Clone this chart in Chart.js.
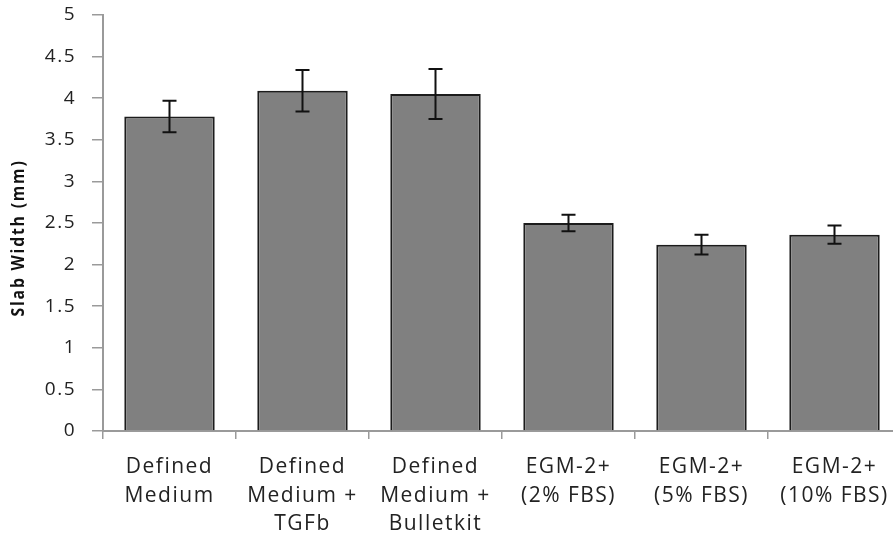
<!DOCTYPE html>
<html>
<head>
<meta charset="utf-8">
<script src="https://cdn.jsdelivr.net/npm/chart.js@4/dist/chart.umd.min.js"></script>
<style>
  html, body { margin: 0; padding: 0; background: #fff; overflow: hidden; }
  #wrap { width: 893px; height: 544px; overflow: hidden; }
  canvas { display: block; }
</style>
</head>
<body>
<div id="wrap"><canvas id="c" width="901" height="544"></canvas></div>
<script>
// Slab width per culture medium (mean ± error)
const categories = [
  ['Defined', 'Medium'],
  ['Defined', 'Medium +', 'TGFb'],
  ['Defined', 'Medium +', 'Bulletkit'],
  ['EGM-2+', '(2% FBS)'],
  ['EGM-2+', '(5% FBS)'],
  ['EGM-2+', '(10% FBS)']
];
const slabWidth = [3.78, 4.09, 4.05, 2.50, 2.24, 2.36];
const slabError = [0.19, 0.25, 0.30, 0.10, 0.12, 0.11];
const yTicks = [0, 0.5, 1, 1.5, 2, 2.5, 3, 3.5, 4, 4.5, 5];
const yTitle = 'Slab Width (mm)';

const FONT = '"Open Sans", "DejaVu Sans", sans-serif';
const AXIS_GREY = '#9a9a9a';

// Slightly spaced lettering for all axis text
const spacing = {
  id: 'spacing',
  beforeDraw(chart) { chart.ctx.letterSpacing = '1.5px'; }
};

// Rotated y-axis title, stretched along its baseline
const axisTitle = {
  id: 'axisTitle',
  afterDraw(chart) {
    const ctx = chart.ctx;
    const area = chart.chartArea;
    ctx.save();
    ctx.letterSpacing = '2px';
    ctx.font = 'bold 18px ' + FONT;
    ctx.fillStyle = '#111';
    ctx.textAlign = 'center';
    ctx.textBaseline = 'middle';
    const w = ctx.measureText(yTitle).width;
    ctx.translate(19, (area.top + area.bottom) / 2 + 15);
    ctx.rotate(-Math.PI / 2);
    ctx.scale(157 / w, 1);
    ctx.fillText(yTitle, 0, 0);
    ctx.restore();
  }
};

// Draws the error bars on top of the columns
const errorBars = {
  id: 'errorBars',
  afterDatasetsDraw(chart) {
    const ctx = chart.ctx;
    const y = chart.scales.y;
    const meta = chart.getDatasetMeta(0);
    ctx.save();
    ctx.strokeStyle = '#111';
    ctx.lineWidth = 2;
    meta.data.forEach((bar, i) => {
      const x = bar.x;
      const top = y.getPixelForValue(slabWidth[i] + slabError[i]);
      const bot = y.getPixelForValue(slabWidth[i] - slabError[i]);
      ctx.beginPath();
      ctx.moveTo(x, top); ctx.lineTo(x, bot);
      ctx.moveTo(x - 7, top); ctx.lineTo(x + 7, top);
      ctx.moveTo(x - 7, bot); ctx.lineTo(x + 7, bot);
      ctx.stroke();
    });
    ctx.restore();
  }
};

new Chart(document.getElementById('c'), {
  type: 'bar',
  data: {
    labels: categories,
    datasets: [{
      data: slabWidth,
      backgroundColor: '#808080',
      borderColor: '#1c1c1c',
      borderWidth: 2,
      borderSkipped: 'bottom',
      categoryPercentage: 1,
      barPercentage: 0.68
    }]
  },
  options: {
    responsive: false,
    animation: false,
    layout: { padding: { left: 10, top: 15, right: 0, bottom: 0 } },
    plugins: { legend: { display: false }, tooltip: { enabled: false } },
    scales: {
      x: {
        offset: true,
        grid: { display: true, drawOnChartArea: false, offset: true, tickLength: 8, color: AXIS_GREY, lineWidth: 1.5 },
        border: { color: AXIS_GREY, width: 2 },
        ticks: {
          maxRotation: 0, autoSkip: false, padding: 14,
          color: '#222',
          font: { family: FONT, size: 21, lineHeight: '28.5px' }
        },
        afterFit(scale) { scale.height = 113; scale.paddingLeft = 0; scale.paddingRight = 0; }
      },
      y: {
        min: 0, max: 5,
        afterBuildTicks(scale) { scale.ticks = yTicks.map(v => ({ value: v })); },
        grid: { display: true, drawOnChartArea: false, tickLength: 11, color: AXIS_GREY, lineWidth: 1.5 },
        border: { color: AXIS_GREY, width: 2 },
        ticks: {
          padding: 16, color: '#222',
          font: { family: FONT, size: 19 },
          callback: v => String(v)
        },
        afterFit(scale) { scale.width = 93; scale.paddingTop = 0; scale.paddingBottom = 0; }
      }
    }
  },
  plugins: [spacing, errorBars, axisTitle]
});
</script>
</body>
</html>
